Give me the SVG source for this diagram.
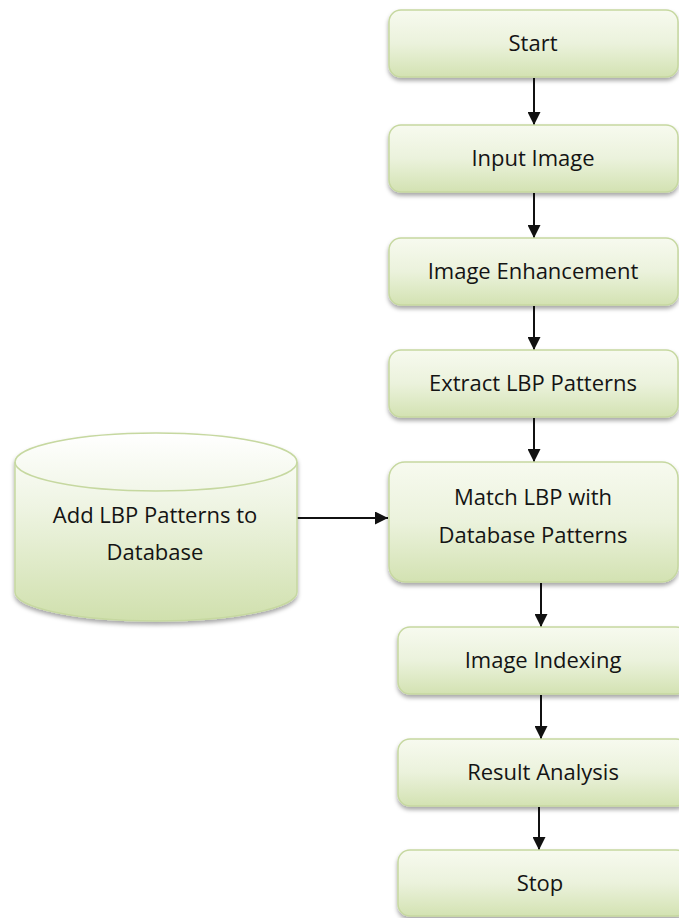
<svg xmlns="http://www.w3.org/2000/svg" width="679" height="918" viewBox="0 0 679 918">
  <style>
    .box { fill: url(#boxFill); stroke: #c6d8a0; stroke-width: 1.5; filter: url(#shadow); }
    .lbl { font-family: "Open Sans", "Noto Sans", "DejaVu Sans", sans-serif; font-size: 22px; fill: #141414; text-anchor: middle; }
    .conn { stroke: #111; stroke-width: 2; fill: none; marker-end: url(#arrow); }
  </style>
  <defs>
    <linearGradient id="boxFill" x1="0" y1="0" x2="0" y2="1">
      <stop offset="0" stop-color="#f7faef"/>
      <stop offset="0.5" stop-color="#ebf2dc"/>
      <stop offset="1" stop-color="#d3e2b2"/>
    </linearGradient>
    <linearGradient id="cylFill" x1="0" y1="0" x2="0" y2="1">
      <stop offset="0" stop-color="#ffffff"/>
      <stop offset="0.4" stop-color="#eef4e2"/>
      <stop offset="1" stop-color="#d0e0ad"/>
    </linearGradient>
    <filter id="shadow" x="-10%" y="-10%" width="120%" height="130%">
      <feDropShadow dx="0" dy="3" stdDeviation="2" flood-color="#000" flood-opacity="0.35"/>
    </filter>
    <marker id="arrow" viewBox="0 0 10 10" refX="10" refY="5" markerWidth="6.5" markerHeight="6.5" orient="auto" markerUnits="strokeWidth">
      <path d="M0,0 L10,5 L0,10 Z" fill="#111"/>
    </marker>
  </defs>

  <g id="connectors">
    <line class="conn" x1="534" y1="78" x2="534" y2="125"/>
    <line class="conn" x1="534" y1="193" x2="534" y2="238"/>
    <line class="conn" x1="534" y1="306" x2="534" y2="350"/>
    <line class="conn" x1="534" y1="418" x2="534" y2="462"/>
    <line class="conn" x1="541" y1="583" x2="541" y2="627"/>
    <line class="conn" x1="541" y1="695" x2="541" y2="739"/>
    <line class="conn" x1="539" y1="807" x2="539" y2="850"/>
    <line class="conn" x1="297" y1="518" x2="388" y2="518"/>
  </g>

  <g id="start">
    <rect class="box" x="389" y="10" width="289" height="67" rx="12"/>
    <text class="lbl" x="533" y="51">Start</text>
  </g>
  <g id="input-image">
    <rect class="box" x="389" y="125" width="289" height="67" rx="12"/>
    <text class="lbl" x="533" y="166">Input Image</text>
  </g>
  <g id="image-enhancement">
    <rect class="box" x="389" y="238" width="289" height="67" rx="12"/>
    <text class="lbl" x="533" y="279">Image Enhancement</text>
  </g>
  <g id="extract-lbp">
    <rect class="box" x="389" y="350" width="289" height="67" rx="12"/>
    <text class="lbl" x="533" y="391">Extract LBP Patterns</text>
  </g>
  <g id="match-lbp">
    <rect class="box" x="389" y="462" width="289" height="120" rx="16"/>
    <text class="lbl" x="533" y="505">Match LBP with</text>
    <text class="lbl" x="533" y="543">Database Patterns</text>
  </g>
  <g id="image-indexing">
    <rect class="box" x="398" y="627" width="290" height="67" rx="12"/>
    <text class="lbl" x="543" y="668">Image Indexing</text>
  </g>
  <g id="result-analysis">
    <rect class="box" x="398" y="739" width="290" height="67" rx="12"/>
    <text class="lbl" x="543" y="780">Result Analysis</text>
  </g>
  <g id="stop">
    <rect class="box" x="398" y="850" width="290" height="66" rx="12"/>
    <text class="lbl" x="540" y="891">Stop</text>
  </g>

  <g id="lbp-database">
    <path d="M15,462 A141,29 0 0 1 297,462 L297,592 A141,29 0 0 1 15,592 Z" fill="url(#cylFill)" stroke="#c6d8a0" stroke-width="1.5" filter="url(#shadow)"/>
    <path d="M15,462 A141,29 0 0 0 297,462" fill="none" stroke="#c6d8a0" stroke-width="1.5"/>
    <text class="lbl" x="155" y="523">Add LBP Patterns to</text>
    <text class="lbl" x="155" y="560">Database</text>
  </g>
</svg>
